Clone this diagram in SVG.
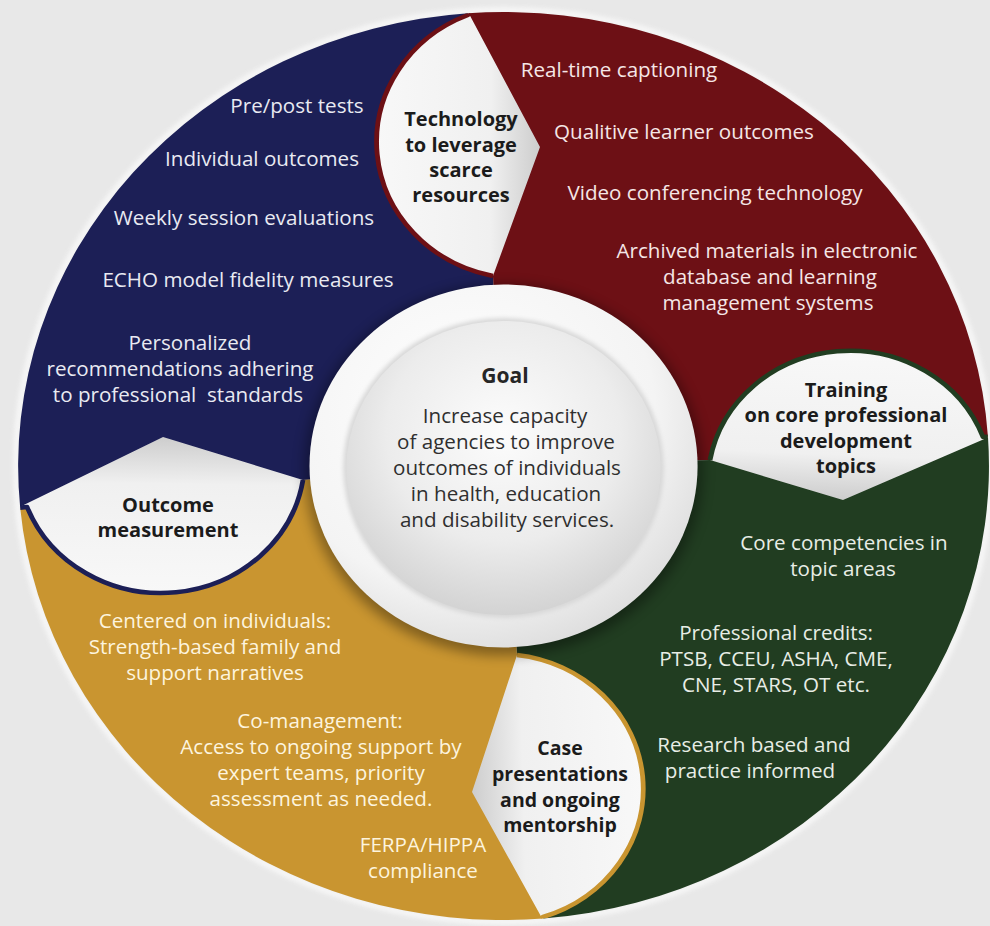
<svg xmlns="http://www.w3.org/2000/svg" width="990" height="926" viewBox="0 0 990 926">
<defs>
<style>
.t{font-family:"Open Sans","Noto Sans","Liberation Sans",sans-serif;font-size:20.6px;text-anchor:middle}
.lbl{font-weight:700;fill:#1b1b1b;font-size:20px}
.nv{fill:#e9eaf2}.mr{fill:#f5e6e6}.gr{fill:#e8ede6}.gd{fill:#fdf4de}
.gl{fill:#2f2f2f}
.rim{fill:none;stroke-width:4.5;stroke-linejoin:round}
</style>
<clipPath id="outerClip" clipPathUnits="userSpaceOnUse"><circle cx="471" cy="466" r="454"/></clipPath>
<linearGradient id="gTech" gradientUnits="userSpaceOnUse" x1="352" y1="146" x2="505" y2="147">
<stop offset="0" stop-color="#f8f8f8"/><stop offset="0.7" stop-color="#f0f0f0"/><stop offset="1" stop-color="#cdcdcd"/>
</linearGradient>
<linearGradient id="gTrain" gradientUnits="userSpaceOnUse" x1="795" y1="350" x2="788.5" y2="500">
<stop offset="0" stop-color="#f8f8f8"/><stop offset="0.7" stop-color="#f0f0f0"/><stop offset="1" stop-color="#cdcdcd"/>
</linearGradient>
<linearGradient id="gCase" gradientUnits="userSpaceOnUse" x1="601" y1="788" x2="441.5" y2="792">
<stop offset="0" stop-color="#f8f8f8"/><stop offset="0.7" stop-color="#f0f0f0"/><stop offset="1" stop-color="#cdcdcd"/>
</linearGradient>
<linearGradient id="gOut" gradientUnits="userSpaceOnUse" x1="150.7" y1="593" x2="152.5" y2="437">
<stop offset="0" stop-color="#f8f8f8"/><stop offset="0.7" stop-color="#f0f0f0"/><stop offset="1" stop-color="#cdcdcd"/>
</linearGradient>
<radialGradient id="rimGrad" cx="0.4" cy="0.35" r="0.7">
<stop offset="0" stop-color="#ffffff"/>
<stop offset="0.7" stop-color="#f4f4f4"/>
<stop offset="1" stop-color="#dcdcdc"/>
</radialGradient>
<radialGradient id="discGrad" cx="0.5" cy="0.38" r="0.62">
<stop offset="0" stop-color="#fcfcfc"/>
<stop offset="0.6" stop-color="#ececec"/>
<stop offset="1" stop-color="#d3d3d3"/>
</radialGradient>
<filter id="blur6" x="-20%" y="-20%" width="140%" height="140%"><feGaussianBlur stdDeviation="6"/></filter>
<filter id="blur2" x="-10%" y="-10%" width="120%" height="120%"><feGaussianBlur stdDeviation="2"/></filter>
</defs>
<rect x="0" y="0" width="990" height="926" fill="#e8e8e8"/>

<g id="ring" transform="scale(1.0691 1)">
<circle cx="471" cy="466" r="456" fill="none" stroke="#fafafa" stroke-width="6" opacity="0.8" filter="url(#blur2)"/>
<path d="M471,466 L283.4,480 L18.9,507.9 A454,454 0 0 1 437.8,13.2 L461.1,276 Z" fill="#1c1f56"/>
<path d="M471,466 L461.1,276 L437.8,13.2 A454,454 0 0 1 924.1,436.7 L664.1,460 Z" fill="#6d1015"/>
<path d="M471,466 L664.1,460 L924.1,436.7 A454,454 0 0 1 508.2,918.5 L483.6,655 Z" fill="#213d21"/>
<path d="M471,466 L483.6,655 L508.2,918.5 A454,454 0 0 1 18.9,507.9 L283.4,480 Z" fill="#c99530"/>
</g>

<g id="node-technology">
<g transform="scale(1.0691 1)" clip-path="url(#outerClip)">
<path fill="url(#gTech)" d="M437.4,11.2 L437.7,15 A137,137 0 0 0 461.1,276 L505.1,147 Z"/>
<path class="rim" stroke="#6d1015" d="M437.4,11.2 L437.7,15 A137,137 0 0 0 461.1,276"/>
</g>
<text class="t lbl" x="461" y="126">Technology</text>
<text class="t lbl" x="461" y="152">to leverage</text>
<text class="t lbl" x="461" y="177">scarce</text>
<text class="t lbl" x="461" y="202">resources</text>
</g>

<g id="node-training">
<g transform="scale(1.0691 1)" clip-path="url(#outerClip)">
<path fill="url(#gTrain)" d="M664.1,460 A133,133 0 0 1 919.5,437 L926.1,436.6 L788.5,500 Z"/>
<path class="rim" stroke="#213d21" d="M664.1,460 A133,133 0 0 1 919.5,437 L926.1,436.6"/>
</g>
<text class="t lbl" x="846" y="397">Training</text>
<text class="t lbl" x="846" y="422">on core professional</text>
<text class="t lbl" x="846" y="448">development</text>
<text class="t lbl" x="846" y="473">topics</text>
</g>

<g id="node-case">
<g transform="scale(1.0691 1)" clip-path="url(#outerClip)">
<path fill="url(#gCase)" d="M483.6,655 A134.7,134.7 0 0 1 507.9,917 L508.2,920.5 L441.5,792 Z"/>
<path class="rim" stroke="#c99530" d="M483.6,655 A134.7,134.7 0 0 1 507.9,917 L508.2,920.5"/>
</g>
<text class="t lbl" x="560" y="755" style="font-size:19.5px">Case</text>
<text class="t lbl" x="560" y="781" style="font-size:19.5px">presentations</text>
<text class="t lbl" x="560" y="807" style="font-size:19.5px">and ongoing</text>
<text class="t lbl" x="560" y="832" style="font-size:19.5px">mentorship</text>
</g>

<g id="node-outcome">
<g transform="scale(1.0691 1)" clip-path="url(#outerClip)">
<path fill="url(#gOut)" d="M16.9,507.8 L25.3,507 A134.4,134.4 0 0 0 283.4,480 L152.5,437 Z"/>
<path class="rim" stroke="#1c1f56" d="M16.9,507.8 L25.3,507 A134.4,134.4 0 0 0 283.4,480"/>
</g>
<text class="t lbl" x="168" y="512">Outcome</text>
<text class="t lbl" x="168" y="537">measurement</text>
</g>

<g id="node-goal">
<g transform="scale(1.0691 1)">
<circle cx="471" cy="470" r="186" fill="#000" opacity="0.35" filter="url(#blur6)"/>
<circle cx="471" cy="466" r="181.5" fill="url(#rimGrad)"/>
<circle cx="471" cy="468" r="150" fill="#d8d8d8" filter="url(#blur2)"/>
<circle cx="471" cy="468" r="147" fill="url(#discGrad)"/>
</g>
<text class="t lbl" x="505" y="383" style="font-size:21px;fill:#262626">Goal</text>
<text class="t gl" x="505" y="423">Increase capacity</text>
<text class="t gl" x="506" y="449">of agencies to improve</text>
<text class="t gl" x="507" y="475">outcomes of individuals</text>
<text class="t gl" x="506" y="501">in health, education</text>
<text class="t gl" x="507" y="527">and disability services.</text>
</g>

<g id="items-outcome">
<text class="t nv" x="297" y="113">Pre/post tests</text>
<text class="t nv" x="262" y="166">Individual outcomes</text>
<text class="t nv" x="244" y="225">Weekly session evaluations</text>
<text class="t nv" x="248" y="287">ECHO model fidelity measures</text>
<text class="t nv" x="190" y="350">Personalized</text>
<text class="t nv" x="180" y="376">recommendations adhering</text>
<text class="t nv" x="178" y="402">to professional&#160; standards</text>
</g>

<g id="items-technology">
<text class="t mr" x="619" y="77">Real-time captioning</text>
<text class="t mr" x="684" y="139">Qualitive learner outcomes</text>
<text class="t mr" x="715" y="200">Video conferencing technology</text>
<text class="t mr" x="767" y="258">Archived materials in electronic</text>
<text class="t mr" x="770" y="284">database and learning</text>
<text class="t mr" x="768" y="310">management systems</text>
</g>

<g id="items-training">
<text class="t gr" x="844" y="550">Core competencies in</text>
<text class="t gr" x="843" y="576">topic areas</text>
<text class="t gr" x="776" y="640">Professional credits:</text>
<text class="t gr" x="776" y="666">PTSB, CCEU, ASHA, CME,</text>
<text class="t gr" x="776" y="692">CNE, STARS, OT etc.</text>
<text class="t gr" x="754" y="752">Research based and</text>
<text class="t gr" x="750" y="778">practice informed</text>
</g>

<g id="items-case">
<text class="t gd" x="215" y="628">Centered on individuals:</text>
<text class="t gd" x="215" y="654">Strength-based family and</text>
<text class="t gd" x="215" y="680">support narratives</text>
<text class="t gd" x="320" y="728">Co-management:</text>
<text class="t gd" x="321" y="754">Access to ongoing support by</text>
<text class="t gd" x="321" y="780">expert teams, priority</text>
<text class="t gd" x="321" y="806">assessment as needed.</text>
<text class="t gd" x="423" y="852">FERPA/HIPPA</text>
<text class="t gd" x="423" y="878">compliance</text>
</g>

<g id="connectors"></g>
</svg>
